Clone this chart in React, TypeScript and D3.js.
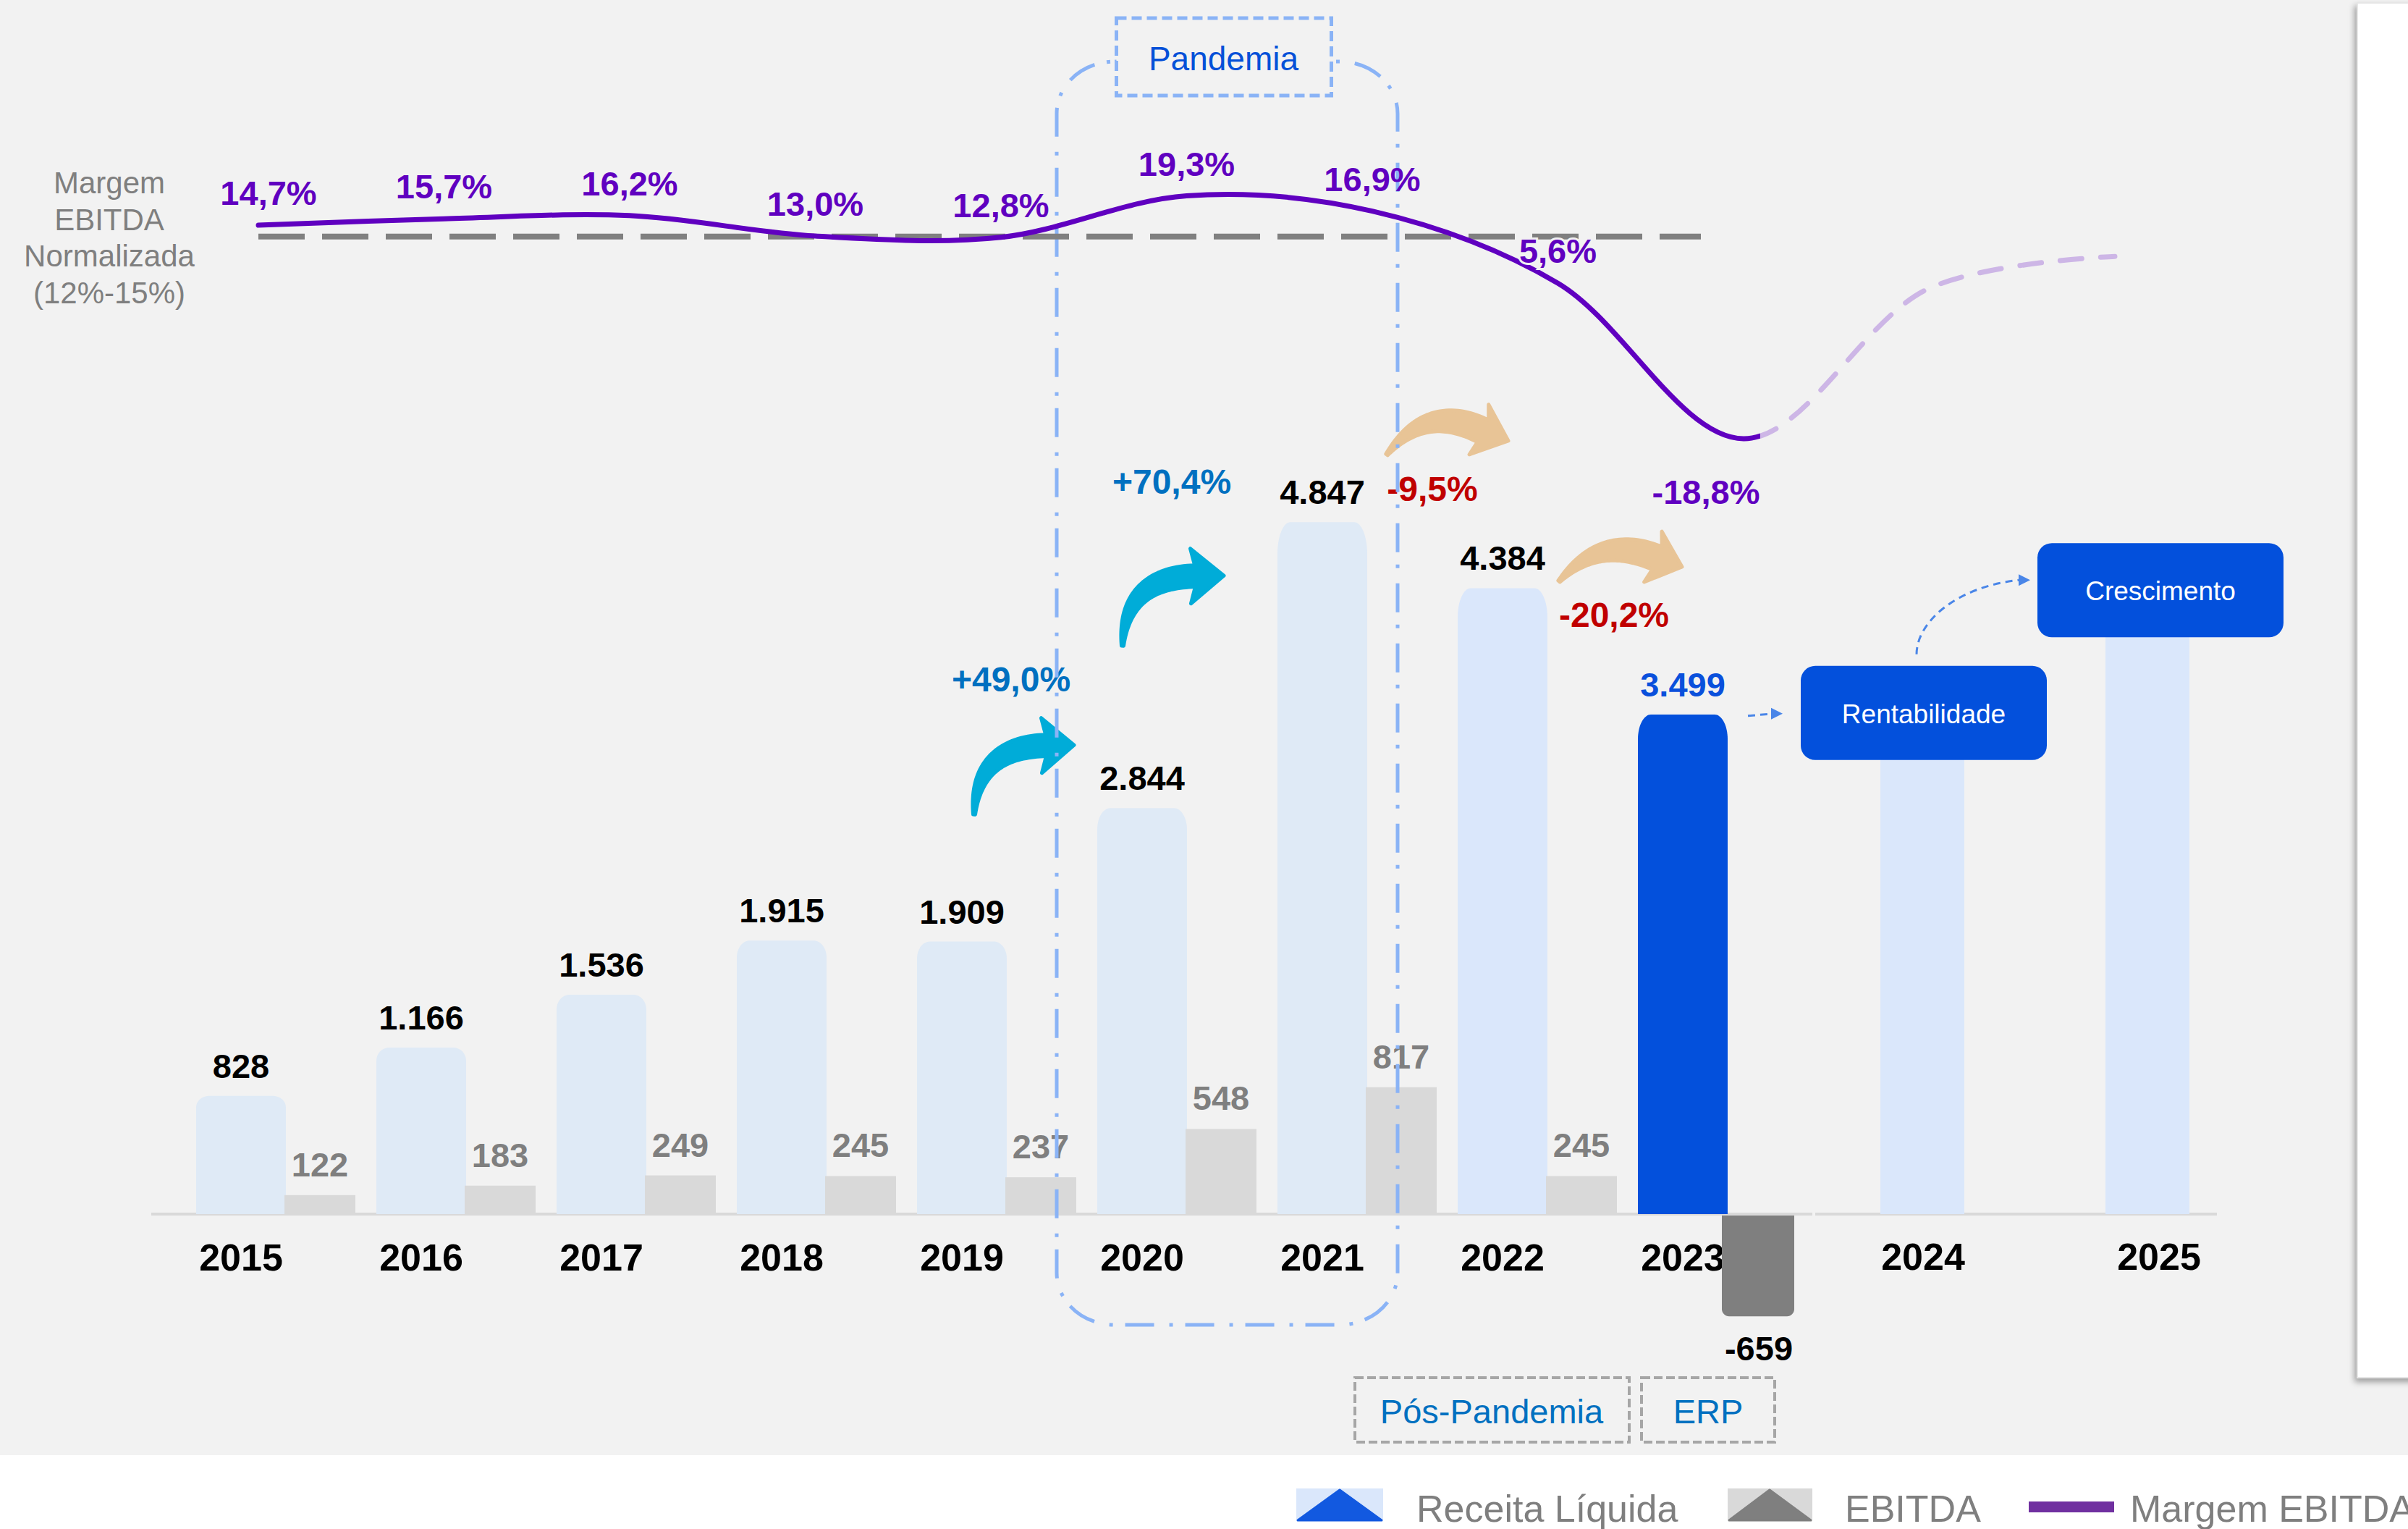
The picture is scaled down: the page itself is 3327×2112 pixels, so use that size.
import * as d3 from "d3";

const width = 3327;
const height = 2112;
const baseline = 1677;
const font = "'Liberation Sans', Arial, sans-serif";

// dados
const years = ["2015", "2016", "2017", "2018", "2019", "2020", "2021", "2022", "2023"];
const receitaLiquida = [828, 1166, 1536, 1915, 1909, 2844, 4847, 4384, 3499];
const ebitda = [122, 183, 249, 245, 237, 548, 817, 245, -659];
const margemEbitda = [14.7, 15.7, 16.2, 13.0, 12.8, 19.3, 16.9, 5.6, -18.8];
const forecastYears = ["2024", "2025"];
const margemProjetada = [4.8, 9.8];
const forecastBoxes = ["Rentabilidade", "Crescimento"];
const forecastLevels = [3510, 4370];
const normalizedMargin = 12.9;
const growthLabels = ["+49,0%", "+70,4%", "-9,5%", "-20,2%"];
const growthYears = ["2020", "2021", "2022", "2023"];
const normalizedText = ["Margem", "EBITDA", "Normalizada", "(12%-15%)"];
const legendItems = ["Receita Líquida", "EBITDA", "Margem EBITDA"];

const ptBR = d3.formatLocale({
  decimal: ",",
  thousands: ".",
  grouping: [3],
  currency: ["R$", ""],
  minus: "-",
});
const fmtInt = ptBR.format(",d");
const fmtPct = (v: number) => ptBR.format(".1f")(v) + "%";

// cores
const lightBlue = "#dfeaf6";
const lightBlue2 = "#dae7fb";
const strongBlue = "#0350dc";
const gray = "#d9d9d9";
const darkGray = "#7f7f7f";
const purple = "#6000c0";
const cyan = "#00acd8";
const tan = "#e8c496";
const dashBlue = "#8ab3f6";

const receitaWidth = 124;
const ebitdaOffset = 122;
const ebitdaWidth = 98;
const forecastWidth = 116;

const x = d3
  .scaleBand<string>()
  .domain(years)
  .range([271, 271 + 249 * years.length])
  .padding(0);
const xF = d3.scalePoint<string>().domain(forecastYears).range([2656, 2967]);
const yR = d3.scaleLinear().domain([0, 5000]).range([baseline, baseline - 986]);
const yE = d3.scaleLinear().domain([0, 1000]).range([baseline, baseline - 214.5]);
const mx = d3.scaleLinear().domain([2015, 2023]).range([357, 2409]);
const my = d3.scaleLinear().domain([-18.8, 19.3]).range([606, 270.5]);

const K = 0.4477;

function topRounded(x0: number, y0: number, w: number, h: number, rx: number, ry: number) {
  const p = d3.path();
  p.moveTo(x0, y0 + h);
  p.lineTo(x0, y0 + ry);
  p.bezierCurveTo(x0, y0 + ry * K, x0 + rx * K, y0, x0 + rx, y0);
  p.lineTo(x0 + w - rx, y0);
  p.bezierCurveTo(x0 + w - rx * K, y0, x0 + w, y0 + ry * K, x0 + w, y0 + ry);
  p.lineTo(x0 + w, y0 + h);
  p.closePath();
  return p.toString();
}

function bottomRounded(x0: number, y0: number, w: number, h: number, r: number) {
  const p = d3.path();
  p.moveTo(x0, y0);
  p.lineTo(x0 + w, y0);
  p.lineTo(x0 + w, y0 + h - r);
  p.bezierCurveTo(x0 + w, y0 + h - r * K, x0 + w - r * K, y0 + h, x0 + w - r, y0 + h);
  p.lineTo(x0 + r, y0 + h);
  p.bezierCurveTo(x0 + r * K, y0 + h, x0, y0 + h - r * K, x0, y0 + h - r);
  p.closePath();
  return p.toString();
}

type Pt = [number, number];

function curvedArrow(tail: Pt, ctrl: Pt, base: Pt, tip: Pt, wTail: number, wBase: number, half: number) {
  const n = 40;
  const left: Pt[] = [];
  const right: Pt[] = [];
  for (let i = 0; i <= n; i++) {
    const t = i / n;
    const mt = 1 - t;
    const px = mt * mt * tail[0] + 2 * mt * t * ctrl[0] + t * t * base[0];
    const py = mt * mt * tail[1] + 2 * mt * t * ctrl[1] + t * t * base[1];
    const dx = 2 * mt * (ctrl[0] - tail[0]) + 2 * t * (base[0] - ctrl[0]);
    const dy = 2 * mt * (ctrl[1] - tail[1]) + 2 * t * (base[1] - ctrl[1]);
    const len = Math.hypot(dx, dy) || 1;
    const nx = -dy / len;
    const ny = dx / len;
    const w = (wTail + (wBase - wTail) * Math.sin((t * Math.PI) / 2)) / 2;
    left.push([px + nx * w, py + ny * w]);
    right.push([px - nx * w, py - ny * w]);
  }
  const hx = tip[0] - base[0];
  const hy = tip[1] - base[1];
  const hl = Math.hypot(hx, hy);
  const nx = -hy / hl;
  const ny = hx / hl;
  const back = 6;
  const bx = base[0] - (hx / hl) * back;
  const by = base[1] - (hy / hl) * back;
  const pts: Pt[] = [
    ...left,
    [bx + nx * half, by + ny * half],
    tip,
    [bx - nx * half, by - ny * half],
    ...right.reverse(),
  ];
  return (d3.line()(pts) ?? "") + "Z";
}

// anchor = canto superior esquerdo da barra de receita do ano
const anchor = (year: string) => {
  const i = years.indexOf(year);
  return { ax: x(year) ?? 0, ay: yR(receitaLiquida[i]) };
};

const arrowShapes = [
  { color: cyan, tail: [-170, 9], ctrl: [-167, -84], base: [-71, -86.5], tip: [-32, -87], wb: 30, half: 38 },
  { color: cyan, tail: [-214, 171], ctrl: [-211, 77], base: [-114, 74.5], tip: [-74, 74], wb: 30, half: 38 },
  { color: tan, tail: [-98, -184.5], ctrl: [-42, -256], base: [35, -217], tip: [70, -203.5], wb: 34, half: 37 },
  { color: tan, tail: [-109, -184], ctrl: [-51, -249], base: [26.5, -216], tip: [61, -204], wb: 34, half: 37 },
];
const growthOffsets = [
  [-119, -161],
  [-146, -39],
  [-35, -120],
  [-33, -121],
];

export default function App() {
  const points: Pt[] = [
    ...years.map((y, i) => [mx(+y), my(margemEbitda[i])] as Pt),
    ...forecastYears.map((y, i) => [mx(+y), my(margemProjetada[i])] as Pt),
  ];
  const line = d3.line().curve(d3.curveCatmullRom.alpha(0.5));
  const margemPath = line(points) ?? "";
  const splitX = mx(2023) + 23;

  const bx1 = (x("2020") ?? 0) - 56;
  const bx2 = (x("2021") ?? 0) + 166;
  const pandemiaCx = (bx1 + bx2) / 2 - 5;

  const boxW = 340;
  const boxH = 130;
  const boxes = forecastYears.map((y, i) => {
    const cx = (xF(y) ?? 0) + (i === 0 ? 2 : 18);
    const cy = yR(forecastLevels[i]);
    return { cx, cy, x0: cx - boxW / 2, y0: cy - boxH / 2 };
  });

  const x2023 = x("2023") ?? 0;
  const smallArrow = { x1: x2023 + receitaWidth + 28, x2: boxes[0].x0 - 25, y: boxes[0].cy + 2 };
  const curveStart: Pt = [boxes[0].cx - 10, boxes[0].y0 - 16];
  const curveEnd: Pt = [boxes[1].x0 - 26, boxes[1].cy - 14];
  const cp = d3.path();
  cp.moveTo(curveStart[0], curveStart[1]);
  cp.bezierCurveTo(curveStart[0], curveStart[1] - 43, curveStart[0] + 52, curveEnd[1] + 10, curveEnd[0], curveEnd[1]);

  const legendX = [1791, 2387, 2803];
  const legendTextX = [1957, 2549, 2943];

  return (
    <svg
      width={width}
      height={height}
      viewBox={`0 0 ${width} ${height}`}
      style={{ position: "absolute", left: 0, top: 0, fontFamily: font, display: "block" }}
    >
      <defs>
        <filter id="shadow" x="-40%" y="-5%" width="180%" height="110%">
          <feDropShadow dx="-3" dy="5" stdDeviation="4" floodColor="#000" floodOpacity="0.35" />
        </filter>
        <clipPath id="solidClip">
          <rect x={0} y={0} width={splitX} height={height} />
        </clipPath>
        <clipPath id="dashClip">
          <rect x={splitX} y={0} width={width - splitX} height={height} />
        </clipPath>
      </defs>

      <rect x={0} y={0} width={width} height={height} fill="#ffffff" />
      <rect x={0} y={0} width={width} height={2010} fill="#f2f2f2" />
      <rect x={3257} y={4} width={90} height={1899} fill="#ffffff" stroke="#e6e6e6" strokeWidth={2} filter="url(#shadow)" />

      {/* eixo */}
      <line x1={209} x2={2504} y1={baseline} y2={baseline} stroke={gray} strokeWidth={4} />
      <line x1={2508} x2={3063} y1={baseline} y2={baseline} stroke={gray} strokeWidth={4} />

      {/* barras */}
      {years.map((y, i) => {
        const x0 = x(y) ?? 0;
        const top = yR(receitaLiquida[i]);
        const h = baseline - top;
        const fill = i === 8 ? strongBlue : i === 7 ? lightBlue2 : lightBlue;
        return (
          <path
            key={`r${y}`}
            d={topRounded(x0, top, receitaWidth, h, 18, 10 + h * 0.035)}
            fill={fill}
          />
        );
      })}
      {years.map((y, i) =>
        ebitda[i] > 0 ? (
          <rect
            key={`e${y}`}
            x={(x(y) ?? 0) + ebitdaOffset}
            y={yE(ebitda[i])}
            width={ebitdaWidth}
            height={baseline - yE(ebitda[i])}
            fill={gray}
          />
        ) : null,
      )}
      {forecastYears.map((y, i) => (
        <rect
          key={`f${y}`}
          x={(xF(y) ?? 0) - forecastWidth / 2}
          y={yR(forecastLevels[i])}
          width={forecastWidth}
          height={baseline - yR(forecastLevels[i])}
          fill={lightBlue2}
        />
      ))}

      {/* rótulos de valor */}
      {years.map((y, i) => (
        <text
          key={`rl${y}`}
          x={(x(y) ?? 0) + receitaWidth / 2}
          y={yR(receitaLiquida[i]) - 25}
          textAnchor="middle"
          fontSize={47}
          fontWeight="bold"
          fill={i === 8 ? "#0a50dc" : "#000"}
        >
          {fmtInt(receitaLiquida[i])}
        </text>
      ))}
      {years.map((y, i) =>
        ebitda[i] > 0 ? (
          <text
            key={`el${y}`}
            x={(x(y) ?? 0) + ebitdaOffset + ebitdaWidth / 2}
            y={yE(ebitda[i]) - 26}
            textAnchor="middle"
            fontSize={47}
            fontWeight="bold"
            fill={darkGray}
          >
            {fmtInt(ebitda[i])}
          </text>
        ) : null,
      )}

      {/* anos */}
      {years.map((y) => (
        <text key={`y${y}`} x={(x(y) ?? 0) + receitaWidth / 2} y={1755} textAnchor="middle" fontSize={52} fontWeight="bold" fill="#000">
          {y}
        </text>
      ))}
      {forecastYears.map((y, i) => (
        <text key={`fy${y}`} x={(xF(y) ?? 0) + (i === 0 ? 1 : 16)} y={1754} textAnchor="middle" fontSize={52} fontWeight="bold" fill="#000">
          {y}
        </text>
      ))}

      {/* EBITDA negativo */}
      {years.map((y, i) =>
        ebitda[i] < 0 ? (
          <g key={`neg${y}`}>
            <path
              d={bottomRounded((x(y) ?? 0) + ebitdaOffset - 6, baseline + 2, ebitdaWidth + 2, yE(ebitda[i]) - baseline - 2, 10)}
              fill={darkGray}
            />
            <text
              x={(x(y) ?? 0) + ebitdaOffset + ebitdaWidth / 2 - 4}
              y={yE(ebitda[i]) + 61}
              textAnchor="middle"
              fontSize={47}
              fontWeight="bold"
              fill="#000"
            >
              {fmtInt(ebitda[i])}
            </text>
          </g>
        ) : null,
      )}

      {/* setas de crescimento */}
      {arrowShapes.map((a, i) => {
        const { ax, ay } = anchor(growthYears[i]);
        const P = (o: number[]): Pt => [ax + o[0], ay + o[1]];
        return (
          <path
            key={`ar${i}`}
            d={curvedArrow(P(a.tail), P(a.ctrl), P(a.base), P(a.tip), 3, a.wb, a.half)}
            fill={a.color}
            stroke={a.color}
            strokeWidth={5}
            strokeLinejoin="round"
          />
        );
      })}
      {growthLabels.map((g, i) => {
        const { ax, ay } = anchor(growthYears[i]);
        return (
          <text
            key={`g${i}`}
            x={ax + growthOffsets[i][0]}
            y={ay + growthOffsets[i][1]}
            textAnchor="middle"
            fontSize={48}
            fontWeight="bold"
            fill={g.startsWith("+") ? "#0070c0" : "#c00000"}
          >
            {g}
          </text>
        );
      })}

      {/* pandemia */}
      <rect
        x={bx1}
        y={85}
        width={bx2 - bx1}
        height={1830 - 85}
        rx={80}
        ry={72}
        fill="none"
        stroke={dashBlue}
        strokeWidth={5}
        strokeDasharray="40 17 5 21"
      />

      {/* margem normalizada */}
      <line
        x1={mx(2015)}
        x2={mx(2022.77)}
        y1={my(normalizedMargin)}
        y2={my(normalizedMargin)}
        stroke="#808080"
        strokeWidth={8}
        strokeDasharray="64 24"
      />

      {/* margem EBITDA */}
      <path d={margemPath} fill="none" stroke={purple} strokeWidth={7} strokeLinecap="round" clipPath="url(#solidClip)" />
      <path
        d={margemPath}
        fill="none"
        stroke="#cdb6e6"
        strokeWidth={7}
        strokeLinecap="round"
        strokeDasharray="30 26"
        clipPath="url(#dashClip)"
      />

      <rect x={pandemiaCx - 148} y={25} width={297} height={107} fill="#f2f2f2" stroke={dashBlue} strokeWidth={5} strokeDasharray="14 7" />
      <text x={pandemiaCx} y={97} textAnchor="middle" fontSize={46} fill="#0550d8">
        Pandemia
      </text>

      {margemEbitda.map((v, i) => {
        const last = i === margemEbitda.length - 1;
        const px = mx(+years[i]) + (i === 0 ? 14 : last ? -52 : 0);
        const py = last ? my(v) + 90 : my(v) - 28;
        return (
          <text
            key={`m${i}`}
            x={px}
            y={py}
            textAnchor="middle"
            fontSize={47}
            fontWeight="bold"
            fill={purple}
            stroke="#f2f2f2"
            strokeWidth={i === 7 ? 6 : 0}
            paintOrder="stroke"
          >
            {fmtPct(v)}
          </text>
        );
      })}

      {/* caixas de projeção */}
      {boxes.map((b, i) => (
        <g key={`box${i}`}>
          <rect x={b.x0} y={b.y0} width={boxW} height={boxH} rx={20} fill={strongBlue} />
          <text x={b.cx} y={b.cy + 14} textAnchor="middle" fontSize={37} fill="#fff">
            {forecastBoxes[i]}
          </text>
        </g>
      ))}
      <line
        x1={smallArrow.x1}
        x2={smallArrow.x2 - 14}
        y1={smallArrow.y + 2}
        y2={smallArrow.y - 1}
        stroke="#4a86e8"
        strokeWidth={3}
        strokeDasharray="10 7"
      />
      <path
        d={`M${smallArrow.x2 - 16},${smallArrow.y - 9} L${smallArrow.x2},${smallArrow.y - 1} L${smallArrow.x2 - 16},${smallArrow.y + 7} Z`}
        fill="#4a86e8"
      />
      <path d={cp.toString()} fill="none" stroke="#4a86e8" strokeWidth={3} strokeDasharray="10 7" />
      <path
        d={`M${curveEnd[0]},${curveEnd[1] - 8} L${curveEnd[0] + 16},${curveEnd[1]} L${curveEnd[0]},${curveEnd[1] + 8} Z`}
        fill="#4a86e8"
      />

      {/* pós-pandemia / ERP */}
      <rect x={(x("2021") ?? 0) + 107} y={1903} width={379} height={89} fill="none" stroke="#a6a6a6" strokeWidth={4} strokeDasharray="12 5" />
      <text x={(x("2021") ?? 0) + 296} y={1966} textAnchor="middle" fontSize={47} fill="#0070c0">
        Pós-Pandemia
      </text>
      <rect x={(x("2022") ?? 0) + 254} y={1903} width={184} height={89} fill="none" stroke="#a6a6a6" strokeWidth={4} strokeDasharray="12 5" />
      <text x={(x("2022") ?? 0) + 346} y={1966} textAnchor="middle" fontSize={47} fill="#0070c0">
        ERP
      </text>

      {/* texto margem normalizada */}
      {normalizedText.map((t, i) => (
        <text key={`nt${i}`} x={151} y={267 + i * 50.5} textAnchor="middle" fontSize={42} fill={darkGray}>
          {t}
        </text>
      ))}

      {/* legenda */}
      <rect x={legendX[0]} y={2056} width={120} height={44} fill={lightBlue2} />
      <path d={`M${legendX[0] + 2},2100 L${legendX[0] + 60},2058 L${legendX[0] + 118},2100 Z`} fill="#1259e0" stroke="#1259e0" strokeWidth={3} strokeLinejoin="round" />
      <rect x={legendX[1]} y={2056} width={117} height={44} fill={gray} />
      <path d={`M${legendX[1] + 2},2100 L${legendX[1] + 58},2058 L${legendX[1] + 115},2100 Z`} fill={darkGray} stroke={darkGray} strokeWidth={3} strokeLinejoin="round" />
      <rect x={legendX[2]} y={2074} width={118} height={15} fill="#7030a0" />
      {legendItems.map((t, i) => (
        <text key={`lg${i}`} x={legendTextX[i]} y={2102} fontSize={52} fill={darkGray}>
          {t}
        </text>
      ))}
    </svg>
  );
}
